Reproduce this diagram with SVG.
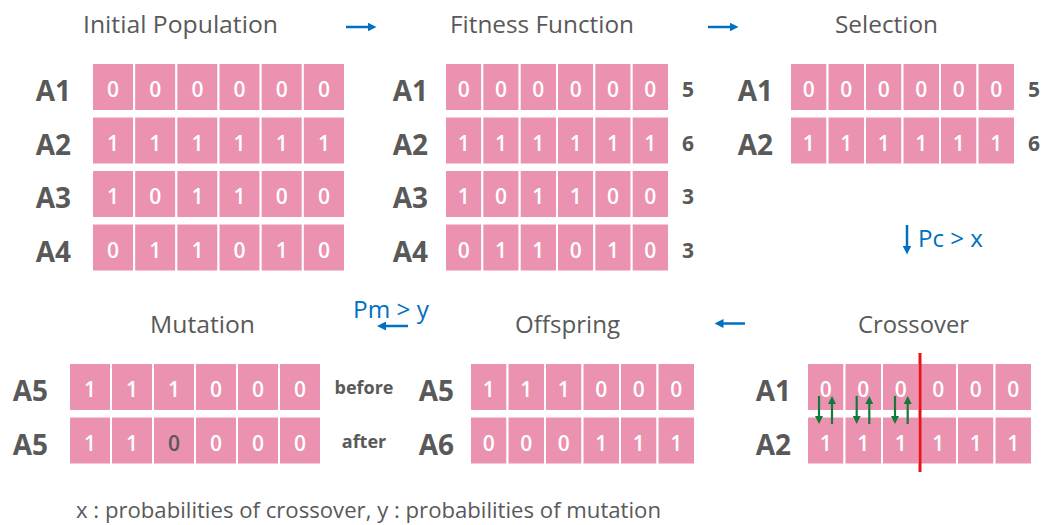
<svg xmlns="http://www.w3.org/2000/svg" width="1045" height="525" viewBox="0 0 1045 525">
<defs>
<style>
.c{fill:#EB92B0;stroke:#ffffff;stroke-width:2}
.d{font-family:"Open Sans","Liberation Sans",sans-serif;font-size:21px;font-weight:600;fill:#ffffff;text-anchor:middle}
.dk{fill:#595959}
.lb{font-family:"Open Sans","Liberation Sans",sans-serif;font-size:28px;font-weight:700;fill:#595959;text-anchor:end}
.sc{font-family:"Open Sans","Liberation Sans",sans-serif;font-size:21px;font-weight:700;fill:#595959;text-anchor:middle}
.t{font-family:"Open Sans","Liberation Sans",sans-serif;font-size:23px;fill:#595959}
.ba{font-family:"Open Sans","Liberation Sans",sans-serif;font-size:18px;font-weight:700;fill:#595959;text-anchor:middle}
.bl{font-family:"Open Sans","Liberation Sans",sans-serif;font-size:23px;fill:#0070C0}
.ar{stroke:#0070C0;stroke-width:2.5;fill:none}
.gr{stroke:#127A3A;stroke-width:2.2;fill:none}
</style>
<marker id="ab" viewBox="0 0 10 10" markerWidth="9" markerHeight="9" markerUnits="userSpaceOnUse" refX="5" refY="5" orient="auto"><path d="M0,0 L10,5 L0,10 z" fill="#0070C0"/></marker>
<marker id="ag" viewBox="0 0 10 10" markerWidth="8" markerHeight="8" markerUnits="userSpaceOnUse" refX="5" refY="5" orient="auto"><path d="M0,0 L10,5 L0,10 z" fill="#127A3A"/></marker>
</defs>
<rect width="1045" height="525" fill="#ffffff"/>

<g id="initial-population">
<text class="t" x="83" y="33" textLength="195" lengthAdjust="spacingAndGlyphs">Initial Population</text>
<g id="ip-cells">
<rect class="c" x="92" y="63" width="42.17" height="48"/><rect class="c" x="134.17" y="63" width="42.17" height="48"/><rect class="c" x="176.33" y="63" width="42.17" height="48"/><rect class="c" x="218.5" y="63" width="42.17" height="48"/><rect class="c" x="260.67" y="63" width="42.17" height="48"/><rect class="c" x="302.83" y="63" width="42.17" height="48"/>
<rect class="c" x="92" y="116.5" width="42.17" height="48"/><rect class="c" x="134.17" y="116.5" width="42.17" height="48"/><rect class="c" x="176.33" y="116.5" width="42.17" height="48"/><rect class="c" x="218.5" y="116.5" width="42.17" height="48"/><rect class="c" x="260.67" y="116.5" width="42.17" height="48"/><rect class="c" x="302.83" y="116.5" width="42.17" height="48"/>
<rect class="c" x="92" y="170" width="42.17" height="48"/><rect class="c" x="134.17" y="170" width="42.17" height="48"/><rect class="c" x="176.33" y="170" width="42.17" height="48"/><rect class="c" x="218.5" y="170" width="42.17" height="48"/><rect class="c" x="260.67" y="170" width="42.17" height="48"/><rect class="c" x="302.83" y="170" width="42.17" height="48"/>
<rect class="c" x="92" y="223.5" width="42.17" height="48"/><rect class="c" x="134.17" y="223.5" width="42.17" height="48"/><rect class="c" x="176.33" y="223.5" width="42.17" height="48"/><rect class="c" x="218.5" y="223.5" width="42.17" height="48"/><rect class="c" x="260.67" y="223.5" width="42.17" height="48"/><rect class="c" x="302.83" y="223.5" width="42.17" height="48"/>
</g>
<text class="lb" x="71" y="101">A1</text><text class="lb" x="71" y="154.5">A2</text><text class="lb" x="71" y="208">A3</text><text class="lb" x="71" y="261.5">A4</text>
<text class="d" y="97"><tspan x="113.1">0</tspan><tspan x="155.3">0</tspan><tspan x="197.4">0</tspan><tspan x="239.6">0</tspan><tspan x="281.8">0</tspan><tspan x="323.9">0</tspan></text>
<text class="d" y="150.5"><tspan x="113.1">1</tspan><tspan x="155.3">1</tspan><tspan x="197.4">1</tspan><tspan x="239.6">1</tspan><tspan x="281.8">1</tspan><tspan x="323.9">1</tspan></text>
<text class="d" y="204"><tspan x="113.1">1</tspan><tspan x="155.3">0</tspan><tspan x="197.4">1</tspan><tspan x="239.6">1</tspan><tspan x="281.8">0</tspan><tspan x="323.9">0</tspan></text>
<text class="d" y="257.5"><tspan x="113.1">0</tspan><tspan x="155.3">1</tspan><tspan x="197.4">1</tspan><tspan x="239.6">0</tspan><tspan x="281.8">1</tspan><tspan x="323.9">0</tspan></text>
</g>

<g id="fitness-function">
<text class="t" x="450" y="33" textLength="184" lengthAdjust="spacingAndGlyphs">Fitness Function</text>
<g id="ff-cells">
<rect class="c" x="445" y="63" width="37.33" height="48"/><rect class="c" x="482.33" y="63" width="37.33" height="48"/><rect class="c" x="519.67" y="63" width="37.33" height="48"/><rect class="c" x="557" y="63" width="37.33" height="48"/><rect class="c" x="594.33" y="63" width="37.33" height="48"/><rect class="c" x="631.67" y="63" width="37.33" height="48"/>
<rect class="c" x="445" y="116.5" width="37.33" height="48"/><rect class="c" x="482.33" y="116.5" width="37.33" height="48"/><rect class="c" x="519.67" y="116.5" width="37.33" height="48"/><rect class="c" x="557" y="116.5" width="37.33" height="48"/><rect class="c" x="594.33" y="116.5" width="37.33" height="48"/><rect class="c" x="631.67" y="116.5" width="37.33" height="48"/>
<rect class="c" x="445" y="170" width="37.33" height="48"/><rect class="c" x="482.33" y="170" width="37.33" height="48"/><rect class="c" x="519.67" y="170" width="37.33" height="48"/><rect class="c" x="557" y="170" width="37.33" height="48"/><rect class="c" x="594.33" y="170" width="37.33" height="48"/><rect class="c" x="631.67" y="170" width="37.33" height="48"/>
<rect class="c" x="445" y="223.5" width="37.33" height="48"/><rect class="c" x="482.33" y="223.5" width="37.33" height="48"/><rect class="c" x="519.67" y="223.5" width="37.33" height="48"/><rect class="c" x="557" y="223.5" width="37.33" height="48"/><rect class="c" x="594.33" y="223.5" width="37.33" height="48"/><rect class="c" x="631.67" y="223.5" width="37.33" height="48"/>
</g>
<text class="lb" x="428" y="101">A1</text><text class="lb" x="428" y="154.5">A2</text><text class="lb" x="428" y="208">A3</text><text class="lb" x="428" y="261.5">A4</text>
<text class="d" y="97"><tspan x="463.7">0</tspan><tspan x="501">0</tspan><tspan x="538.3">0</tspan><tspan x="575.7">0</tspan><tspan x="613">0</tspan><tspan x="650.3">0</tspan></text>
<text class="d" y="150.5"><tspan x="463.7">1</tspan><tspan x="501">1</tspan><tspan x="538.3">1</tspan><tspan x="575.7">1</tspan><tspan x="613">1</tspan><tspan x="650.3">1</tspan></text>
<text class="d" y="204"><tspan x="463.7">1</tspan><tspan x="501">0</tspan><tspan x="538.3">1</tspan><tspan x="575.7">1</tspan><tspan x="613">0</tspan><tspan x="650.3">0</tspan></text>
<text class="d" y="257.5"><tspan x="463.7">0</tspan><tspan x="501">1</tspan><tspan x="538.3">1</tspan><tspan x="575.7">0</tspan><tspan x="613">1</tspan><tspan x="650.3">0</tspan></text>
<text class="sc" x="688" y="97">5</text><text class="sc" x="688" y="150.5">6</text><text class="sc" x="688" y="204">3</text><text class="sc" x="688" y="257.5">3</text>
</g>

<g id="selection">
<text class="t" x="835" y="33" textLength="103" lengthAdjust="spacingAndGlyphs">Selection</text>
<g id="sel-cells">
<rect class="c" x="790" y="63" width="37.5" height="48"/><rect class="c" x="827.5" y="63" width="37.5" height="48"/><rect class="c" x="865" y="63" width="37.5" height="48"/><rect class="c" x="902.5" y="63" width="37.5" height="48"/><rect class="c" x="940" y="63" width="37.5" height="48"/><rect class="c" x="977.5" y="63" width="37.5" height="48"/>
<rect class="c" x="790" y="116.5" width="37.5" height="48"/><rect class="c" x="827.5" y="116.5" width="37.5" height="48"/><rect class="c" x="865" y="116.5" width="37.5" height="48"/><rect class="c" x="902.5" y="116.5" width="37.5" height="48"/><rect class="c" x="940" y="116.5" width="37.5" height="48"/><rect class="c" x="977.5" y="116.5" width="37.5" height="48"/>
</g>
<text class="lb" x="773" y="101">A1</text><text class="lb" x="773" y="154.5">A2</text>
<text class="d" y="97"><tspan x="808.75">0</tspan><tspan x="846.25">0</tspan><tspan x="883.75">0</tspan><tspan x="921.25">0</tspan><tspan x="958.75">0</tspan><tspan x="996.25">0</tspan></text>
<text class="d" y="150.5"><tspan x="808.75">1</tspan><tspan x="846.25">1</tspan><tspan x="883.75">1</tspan><tspan x="921.25">1</tspan><tspan x="958.75">1</tspan><tspan x="996.25">1</tspan></text>
<text class="sc" x="1034" y="97">5</text><text class="sc" x="1034" y="150.5">6</text>
</g>

<g id="crossover">
<text class="t" x="858" y="333" textLength="111" lengthAdjust="spacingAndGlyphs">Crossover</text>
<g id="co-cells">
<rect class="c" x="807" y="363" width="37.5" height="48"/><rect class="c" x="844.5" y="363" width="37.5" height="48"/><rect class="c" x="882" y="363" width="37.5" height="48"/><rect class="c" x="919.5" y="363" width="37.5" height="48"/><rect class="c" x="957" y="363" width="37.5" height="48"/><rect class="c" x="994.5" y="363" width="37.5" height="48"/>
<rect class="c" x="807" y="416.5" width="37.5" height="48"/><rect class="c" x="844.5" y="416.5" width="37.5" height="48"/><rect class="c" x="882" y="416.5" width="37.5" height="48"/><rect class="c" x="919.5" y="416.5" width="37.5" height="48"/><rect class="c" x="957" y="416.5" width="37.5" height="48"/><rect class="c" x="994.5" y="416.5" width="37.5" height="48"/>
</g>
<text class="lb" x="791" y="401">A1</text><text class="lb" x="791" y="454.5">A2</text>
<text class="d" y="397"><tspan x="825.75">0</tspan><tspan x="863.25">0</tspan><tspan x="900.75">0</tspan><tspan x="938.25">0</tspan><tspan x="975.75">0</tspan><tspan x="1013.25">0</tspan></text>
<text class="d" y="450.5"><tspan x="825.75">1</tspan><tspan x="863.25">1</tspan><tspan x="900.75">1</tspan><tspan x="938.25">1</tspan><tspan x="975.75">1</tspan><tspan x="1013.25">1</tspan></text>
<line x1="920" y1="353" x2="920" y2="472" stroke="#E8131B" stroke-width="3"/>
<g id="swap-arrows">
<line class="gr" x1="819" y1="396" x2="819" y2="420" marker-end="url(#ag)"/><line class="gr" x1="832" y1="424" x2="832" y2="400" marker-end="url(#ag)"/>
<line class="gr" x1="856.7" y1="396" x2="856.7" y2="420" marker-end="url(#ag)"/><line class="gr" x1="869.3" y1="424" x2="869.3" y2="400" marker-end="url(#ag)"/>
<line class="gr" x1="895" y1="396" x2="895" y2="420" marker-end="url(#ag)"/><line class="gr" x1="907.7" y1="424" x2="907.7" y2="400" marker-end="url(#ag)"/>
</g>
</g>

<g id="offspring">
<text class="t" x="515" y="333" textLength="105" lengthAdjust="spacingAndGlyphs">Offspring</text>
<g id="of-cells">
<rect class="c" x="470" y="363" width="37.5" height="48"/><rect class="c" x="507.5" y="363" width="37.5" height="48"/><rect class="c" x="545" y="363" width="37.5" height="48"/><rect class="c" x="582.5" y="363" width="37.5" height="48"/><rect class="c" x="620" y="363" width="37.5" height="48"/><rect class="c" x="657.5" y="363" width="37.5" height="48"/>
<rect class="c" x="470" y="416.5" width="37.5" height="48"/><rect class="c" x="507.5" y="416.5" width="37.5" height="48"/><rect class="c" x="545" y="416.5" width="37.5" height="48"/><rect class="c" x="582.5" y="416.5" width="37.5" height="48"/><rect class="c" x="620" y="416.5" width="37.5" height="48"/><rect class="c" x="657.5" y="416.5" width="37.5" height="48"/>
</g>
<text class="lb" x="454" y="401">A5</text><text class="lb" x="454" y="454.5">A6</text>
<text class="d" y="397"><tspan x="488.75">1</tspan><tspan x="526.25">1</tspan><tspan x="563.75">1</tspan><tspan x="601.25">0</tspan><tspan x="638.75">0</tspan><tspan x="676.25">0</tspan></text>
<text class="d" y="450.5"><tspan x="488.75">0</tspan><tspan x="526.25">0</tspan><tspan x="563.75">0</tspan><tspan x="601.25">1</tspan><tspan x="638.75">1</tspan><tspan x="676.25">1</tspan></text>
</g>

<g id="mutation">
<text class="t" x="150" y="333" textLength="105" lengthAdjust="spacingAndGlyphs">Mutation</text>
<g id="mu-cells">
<rect class="c" x="69" y="363" width="42" height="48"/><rect class="c" x="111" y="363" width="42" height="48"/><rect class="c" x="153" y="363" width="42" height="48"/><rect class="c" x="195" y="363" width="42" height="48"/><rect class="c" x="237" y="363" width="42" height="48"/><rect class="c" x="279" y="363" width="42" height="48"/>
<rect class="c" x="69" y="416.5" width="42" height="48"/><rect class="c" x="111" y="416.5" width="42" height="48"/><rect class="c" x="153" y="416.5" width="42" height="48"/><rect class="c" x="195" y="416.5" width="42" height="48"/><rect class="c" x="237" y="416.5" width="42" height="48"/><rect class="c" x="279" y="416.5" width="42" height="48"/>
</g>
<text class="lb" x="48" y="401">A5</text><text class="lb" x="48" y="454.5">A5</text>
<text class="d" y="397"><tspan x="90">1</tspan><tspan x="132">1</tspan><tspan x="174">1</tspan><tspan x="216">0</tspan><tspan x="258">0</tspan><tspan x="300">0</tspan></text>
<text class="d" y="450.5"><tspan x="90">1</tspan><tspan x="132">1</tspan><tspan class="dk" x="174">0</tspan><tspan x="216">0</tspan><tspan x="258">0</tspan><tspan x="300">0</tspan></text>
<text class="ba" x="364" y="394">before</text>
<text class="ba" x="364" y="448">after</text>
</g>

<g id="connectors">
<line class="ar" x1="346" y1="27" x2="372" y2="27" marker-end="url(#ab)"/>
<line class="ar" x1="708" y1="27" x2="734" y2="27" marker-end="url(#ab)"/>
<line class="ar" x1="907" y1="225" x2="907" y2="250" marker-end="url(#ab)"/>
<line class="ar" x1="745" y1="323.5" x2="719" y2="323.5" marker-end="url(#ab)"/>
<line class="ar" x1="408" y1="326" x2="381.5" y2="326" marker-end="url(#ab)"/>
<text class="bl" x="918" y="247" textLength="65" lengthAdjust="spacingAndGlyphs">Pc &gt; x</text>
<text class="bl" x="353" y="318" textLength="76" lengthAdjust="spacingAndGlyphs">Pm &gt; y</text>
</g>

<text class="t" x="76" y="518" textLength="585" lengthAdjust="spacingAndGlyphs" style="font-size:21px">x : probabilities of crossover, y : probabilities of mutation</text>
</svg>
